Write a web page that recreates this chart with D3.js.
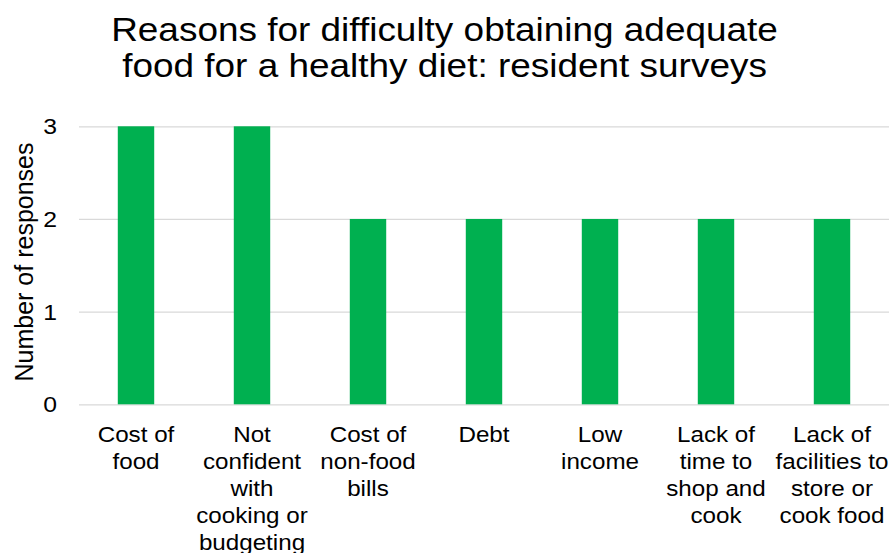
<!DOCTYPE html>
<html>
<head>
<meta charset="utf-8">
<script src="https://cdn.jsdelivr.net/npm/d3@7"></script>
<style>
  html, body { margin: 0; padding: 0; background: #fff; }
  svg { display: block; font-family: Arial, "Liberation Sans", sans-serif; }
</style>
</head>
<body>
<svg id="chart" width="889" height="553"></svg>
<script>
const categories = [
  "Cost of food",
  "Not confident with cooking or budgeting",
  "Cost of non-food bills",
  "Debt",
  "Low income",
  "Lack of time to shop and cook",
  "Lack of facilities to store or cook food"
];
const categoryLines = [
  ["Cost of", "food"],
  ["Not", "confident", "with", "cooking or", "budgeting"],
  ["Cost of", "non-food", "bills"],
  ["Debt"],
  ["Low", "income"],
  ["Lack of", "time to", "shop and", "cook"],
  ["Lack of", "facilities to", "store or", "cook food"]
];
const responses = [3, 3, 2, 2, 2, 2, 2];
const yTicks = [0, 1, 2, 3];
const titleLines = ["Reasons for difficulty obtaining adequate", "food for a healthy diet: resident surveys"];
const yAxisTitle = "Number of responses";

const svg = d3.select("#chart");
const W = 889, H = 553;
const margin = { left: 78, right: -1, top: 126.3, bottom: 553 - 404.3 };
const sx = 1.1; // horizontal stretch of the reference text

const x = d3.scaleBand()
  .domain(categories)
  .range([margin.left, W - margin.right])
  .paddingInner(0.686)
  .paddingOuter(0.343);

const y = d3.scaleLinear()
  .domain([0, 3])
  .range([H - margin.bottom, margin.top]);

// gridlines
const yAxis = d3.axisLeft(y).tickValues(yTicks).tickSize(-(W - 79)).tickFormat("");
svg.append("g")
  .attr("transform", "translate(79,0)")
  .call(yAxis)
  .call(g => g.select(".domain").remove())
  .call(g => g.selectAll("line").attr("stroke", "#d9d9d9").attr("stroke-width", 1.3));

// bars
svg.append("g").selectAll("rect")
  .data(responses)
  .join("rect")
  .attr("x", (d, i) => x(categories[i]))
  .attr("width", x.bandwidth())
  .attr("y", d => y(d))
  .attr("height", d => y(0) - y(d))
  .attr("fill", "#00b050");

// y tick labels
svg.append("g").selectAll("text")
  .data(yTicks)
  .join("text")
  .attr("transform", d => `translate(57,${y(d)}) scale(${sx},1)`)
  .attr("text-anchor", "end")
  .attr("dy", "0.36em")
  .attr("font-size", 22.5)
  .attr("fill", "#000")
  .text(d => d);

// y axis title
svg.append("text")
  .attr("transform", `translate(33,262) rotate(-90)`)
  .attr("text-anchor", "middle")
  .attr("font-size", 25)
  .attr("fill", "#000")
  .text(yAxisTitle);

// category labels
const catG = svg.append("g").selectAll("g")
  .data(categories)
  .join("g")
  .attr("transform", (d, i) => `translate(${x(d) + x.bandwidth() / 2},442) scale(${sx},1)`);
catG.each(function(d, i) {
  const g = d3.select(this);
  categoryLines[i].forEach((line, j) => {
    g.append("text")
      .attr("y", j * 26.9)
      .attr("text-anchor", "middle")
      .attr("font-size", 22)
      .attr("fill", "#000")
      .text(line);
  });
});

// title
const tg = svg.append("g").attr("transform", `translate(444.5,41) scale(1.12,1)`);
titleLines.forEach((line, j) => {
  tg.append("text")
    .attr("y", j * 36)
    .attr("text-anchor", "middle")
    .attr("font-size", 33)
    .attr("fill", "#000")
    .text(line);
});
</script>
</body>
</html>
